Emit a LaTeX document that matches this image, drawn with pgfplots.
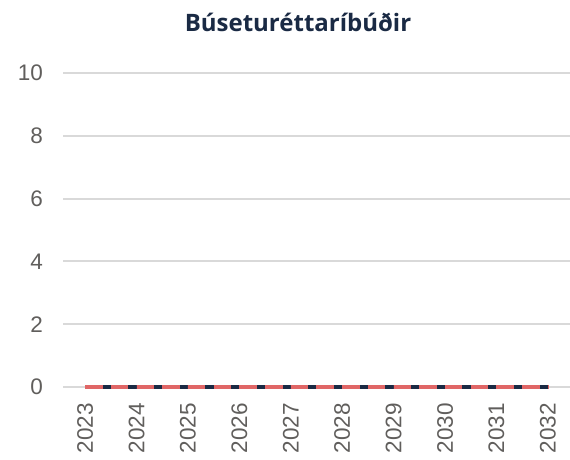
\documentclass[border=0pt]{standalone}
\usepackage{fontspec}
\setmainfont{Liberation Sans}
\newfontfamily\titlefont{Open Sans}
\usepackage{pgfplots}
\pgfplotsset{compat=1.18}
\definecolor{navy}{HTML}{1A2A44}
\definecolor{redline}{HTML}{E06666}
\definecolor{gridc}{HTML}{D9D9D9}
\definecolor{tickc}{HTML}{605E5C}
\begin{document}
\begin{tikzpicture}
\useasboundingbox (0,0) rectangle (570pt,459pt);
\begin{axis}[
  at={(63pt,72pt)}, anchor=south west,
  scale only axis, width=507pt, height=314pt,
  xmin=2022.57, xmax=2032.43, ymin=0, ymax=10,
  axis line style={draw=none},
  ytick={0,2,4,6,8,10}, xtick={2023,...,2032},
  ymajorgrids, major grid style={gridc, line width=2pt},
  major tick length=0pt,
  /pgf/number format/assume math mode=true,
  /pgf/number format/1000 sep={},
  tick label style={font=\fontsize{22.5}{27}\selectfont, text=tickc, inner sep=0pt},
  yticklabel style={anchor=east, xshift=-20pt},
  xticklabel style={yshift=-16pt, rotate=90, anchor=east},
  clip=false,
]
\addplot[navy, line width=3.8pt, no markers] coordinates {
 (2023,0) (2024,0) (2025,0) (2026,0) (2027,0) (2028,0) (2029,0) (2030,0) (2031,0) (2032,0)};
\addplot[redline, line width=3.8pt, no markers, dash pattern=on 17.5pt off 8.2pt] coordinates {
 (2023,0) (2024,0) (2025,0) (2026,0) (2027,0) (2028,0) (2029,0) (2030,0) (2031,0) (2032,0)};
\end{axis}
\node[text=navy, font=\titlefont\bfseries\fontsize{24}{28}\selectfont, anchor=base] at (298pt,427pt) {Búseturéttaríbúðir};
\end{tikzpicture}
\end{document}
